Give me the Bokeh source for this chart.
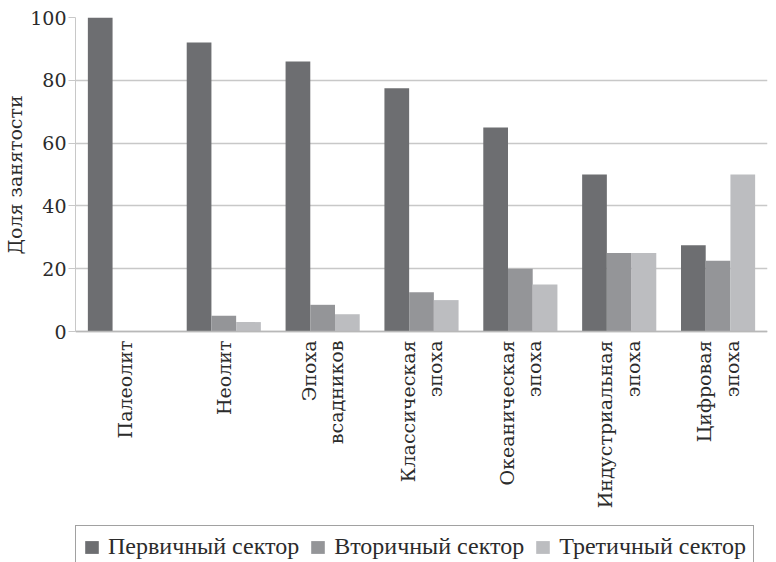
import math
from bokeh.plotting import figure
from bokeh.models import FactorRange, Range1d, FixedTicker, ColumnDataSource, Span
from bokeh.core.properties import value
from bokeh.transform import dodge
from bokeh.embed import file_html
from bokeh.resources import INLINE

categories = ["Палеолит", "Неолит", "Эпоха\nвсадников", "Классическая\nэпоха",
              "Океаническая\nэпоха", "Индустриальная\nэпоха", "Цифровая\nэпоха"]
primary = [100, 92, 86, 77.5, 65, 50, 27.5]
secondary = [0, 5, 8.5, 12.5, 20, 25, 22.5]
tertiary = [0, 3, 5.5, 10, 15, 25, 50]
series_names = ["Первичный сектор", "Вторичный сектор", "Третичный сектор"]
y_ticks = [0, 20, 40, 60, 80, 100]
y_title = "Доля занятости"

colors = ["#6d6e71", "#949598", "#bcbdc0"]

# layout: plot area (0..100) is 314 px tall; extra frame space below holds the category labels
VALUE_PX = 314
FRAME_H = 508
y_start = -100.0 * (FRAME_H - VALUE_PX) / VALUE_PX
label_gap = 9 * 100.0 / VALUE_PX   # 9 px gap below the baseline

source = ColumnDataSource(dict(cat=categories, primary=primary,
                               secondary=secondary, tertiary=tertiary))

p = figure(frame_width=692, frame_height=FRAME_H, output_backend="svg",
           toolbar_location=None, x_axis_location=None,
           x_range=FactorRange(factors=categories, range_padding=0),
           y_range=Range1d(y_start, 100),
           min_border_left=75, min_border_right=9, min_border_top=17,
           min_border_bottom=0)

keys = ["primary", "secondary", "tertiary"]
offsets = [-0.25, 0.0, 0.25]
for key, off, col, name in zip(keys, offsets, colors, series_names):
    p.vbar(x=dodge("cat", off, range=p.x_range), top=key, width=0.25,
           source=source, fill_color=col, line_color=None, legend_label=name)

# category labels (rotated, two-line where needed)
p.text(x="cat", y=-label_gap, text="cat", source=source, angle=math.pi / 2,
       text_align="right", text_baseline="middle",
       text_font=value("DejaVu Serif"), text_font_size="19px",
       text_color="#2b2b2b", text_line_height=1.25)

p.outline_line_color = None
for g in p.xgrid:
    g.visible = False
p.ygrid.ticker = FixedTicker(ticks=y_ticks)
p.ygrid.grid_line_color = "#c8c8c8"
p.ygrid.grid_line_width = 1.3

baseline = Span(location=0, dimension="width", line_color="#b8b8b8", line_width=1.5)
p.add_layout(baseline)

p.yaxis.ticker = FixedTicker(ticks=y_ticks)
p.yaxis.bounds = (0, 100)
p.yaxis.minor_tick_line_color = None
p.yaxis.major_tick_out = 7
p.yaxis.major_tick_in = 0
p.yaxis.major_tick_line_color = "#c8c8c8"
p.yaxis.axis_line_color = "#c8c8c8"
p.yaxis.major_label_standoff = 2
p.yaxis.major_label_text_font = "DejaVu Serif"
p.yaxis.major_label_text_font_size = "19px"
p.yaxis.major_label_text_color = "#2b2b2b"
# the axis title is centred on the whole frame; leading no-break spaces lift the
# visible words so that they sit centred on the 0..100 part of the axis
p.yaxis.axis_label = "\u00a0" * 32 + y_title
p.yaxis.axis_label_text_font = "DejaVu Serif"
p.yaxis.axis_label_text_font_size = "19px"
p.yaxis.axis_label_text_font_style = "normal"
p.yaxis.axis_label_text_color = "#2b2b2b"
p.yaxis.axis_label_standoff = 1

lg = p.legend[0]
p.add_layout(lg, "below")
lg.orientation = "horizontal"
lg.location = "top_left"
lg.margin = 0
lg.padding = 7
lg.spacing = 10
lg.glyph_width = 17
lg.glyph_height = 16
lg.label_standoff = 8
lg.label_text_font = "Liberation Serif"
lg.label_text_font_size = "24px"
lg.label_text_color = "#2b2b2b"
lg.border_line_color = "#444444"
lg.border_line_width = 1
lg.background_fill_alpha = 1

open("out.html", "w").write(file_html(p, INLINE))
